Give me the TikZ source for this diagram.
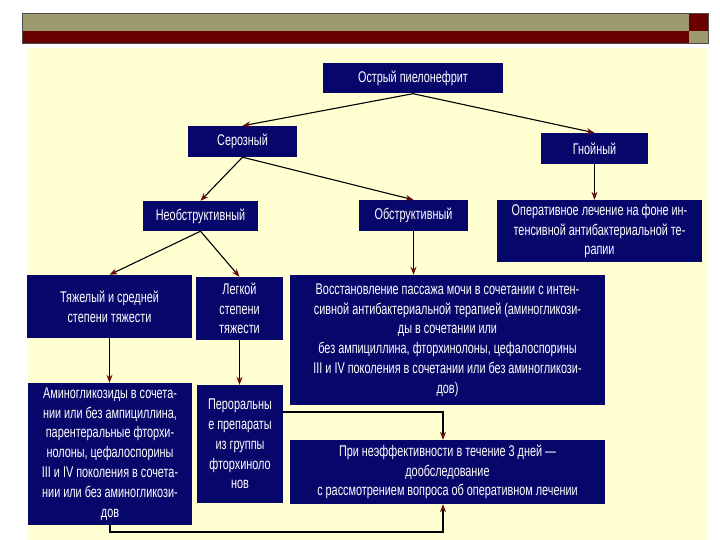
\documentclass[tikz,border=0pt]{standalone}
\usepackage{fontspec}
\setmainfont{Liberation Sans}[FakeStretch=0.7]
\usetikzlibrary{arrows.meta}
\definecolor{navybox}{HTML}{07076B}
\definecolor{paleyellow}{HTML}{FFFFD2}
\definecolor{olivebar}{HTML}{9C9A6C}
\definecolor{maroonbar}{HTML}{6A0000}
\definecolor{arrowred}{HTML}{6A0A0A}
\tikzset{
  box/.style={fill=navybox, text=white, inner sep=0pt, align=center,
    font=\fontsize{15.5}{19.8}\selectfont},
  arr/.style={draw=black, line width=1.1pt,
    -{Stealth[length=8pt, width=6pt, color=arrowred]}}
}
\begin{document}
\begin{tikzpicture}[x=1pt, y=-1pt]
\useasboundingbox (0,0) rectangle (720,540);
\fill[white] (0,0) rectangle (720,540);
% slide background and title bar
\fill[paleyellow] (28,48) rectangle (707,540);
\fill[olivebar] (22,13) rectangle (689,31);
\fill[maroonbar] (22,31) rectangle (689,43);
\fill[maroonbar] (689,13) rectangle (708,31);
\fill[olivebar] (689,31) rectangle (708,43);
\draw[black!70, line width=0.6pt] (22,13) rectangle (708,43);
%
\node[box, minimum width=180pt, minimum height=30pt] (ostr) at (413,78.5) {Острый пиелонефрит};
\node[box, minimum width=109pt, minimum height=31pt] (seroz) at (242.5,141.5) {Серозный};
\node[box, minimum width=107pt, minimum height=31pt] (gnoin) at (594.5,148.5) {Гнойный};
\node[box, minimum width=205pt, minimum height=62pt] (operat) at (599.5,231)
  {Оперативное лечение на фоне ин-\\тенсивной антибактериальной те-\\рапии};
\node[box, minimum width=115pt, minimum height=30pt] (neobstr) at (200.5,216) {Необструктивный};
\node[box, minimum width=109pt, minimum height=31pt] (obstr) at (413.5,215.5) {Обструктивный};
\node[box, minimum width=165pt, minimum height=63pt] (tyazh) at (109.5,306.5)
  {Тяжелый и средней\\степени тяжести};
\node[box, minimum width=87pt, minimum height=63pt] (legk) at (239.5,308.5)
  {Легкой\\степени\\тяжести};
\node[box, minimum width=315pt, minimum height=130pt] (vosst) at (447.5,340)
  {Восстановление пассажа мочи в сочетании с интен-\\сивной антибактериальной терапией (аминогликози-\\ды в сочетании или\\без ампициллина, фторхинолоны, цефалоспорины\\III и IV поколения в сочетании или без аминогликози-\\дов)};
\node[box, minimum width=164pt, minimum height=142pt] (amino) at (110,454)
  {Аминогликозиды в сочета-\\нии или без ампициллина,\\парентеральные фторхи-\\нолоны, цефалоспорины\\III и IV поколения в сочета-\\нии или без аминогликози-\\дов};
\node[box, minimum width=86pt, minimum height=118pt] (peror) at (240,444)
  {Пероральны\\е препараты\\из группы\\фторхиноло\\нов};
\node[box, minimum width=315pt, minimum height=64pt] (pri) at (447.5,472)
  {При неэффективности в течение 3 дней —\\дообследование\\с рассмотрением вопроса об оперативном лечении};
%
\draw[arr] (ostr.south) -- (seroz.north);
\draw[arr] (ostr.south) -- (gnoin.north);
\draw[arr] (seroz.south) -- (neobstr.north);
\draw[arr] (seroz.south) -- (obstr.north);
\draw[arr] (gnoin.south) -- (gnoin.south |- operat.north);
\draw[arr] (neobstr.south) -- (tyazh.north);
\draw[arr] (neobstr.south) -- (legk.north);
\draw[arr] (obstr.south) -- (obstr.south |- vosst.north);
\draw[arr] (tyazh.south) -- (tyazh.south |- amino.north);
\draw[arr] (legk.south) -- (legk.south |- peror.north);
%
\coordinate (pj) at (443,412);
\coordinate (bj) at (443,532);
\draw[arr] (peror.east |- pj) -- (pj) -- (pj |- pri.north);
\draw[arr] (amino.south) -- (amino.south |- bj) -- (bj) -- (bj |- pri.south);
\end{tikzpicture}
\end{document}
